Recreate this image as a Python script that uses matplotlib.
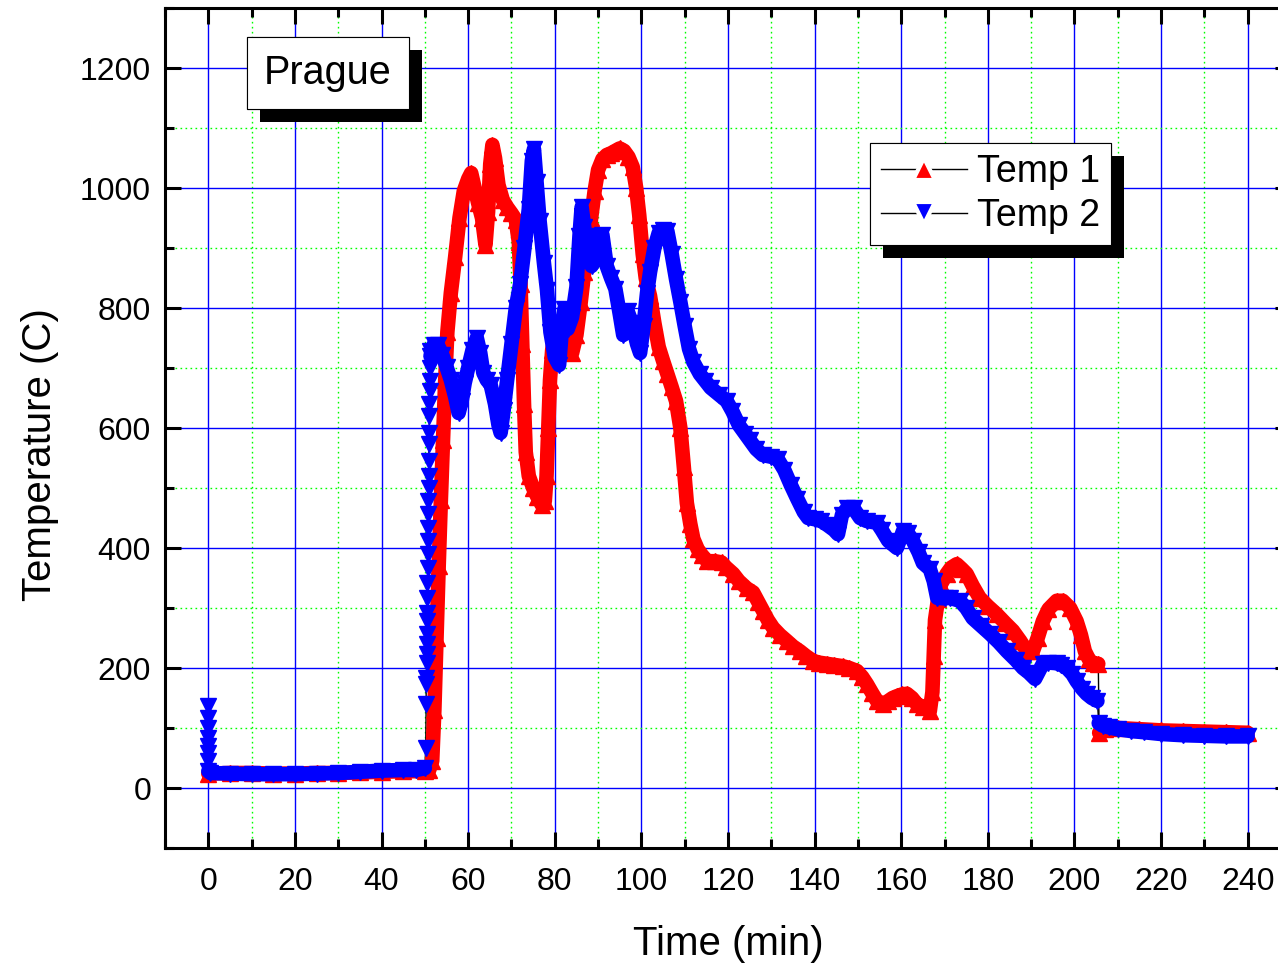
import numpy as np
import matplotlib
matplotlib.use("Agg")
import matplotlib.pyplot as plt
from matplotlib import patheffects
from matplotlib.lines import Line2D
from matplotlib.patches import Rectangle
from matplotlib.ticker import MultipleLocator

plt.rcParams['font.family'] = ['Liberation Sans', 'DejaVu Sans']

# Temp 1 readings (min, deg C) up to the drop at ~205 min
temp1_time = [0, 5, 10, 15, 20, 25, 30, 35, 40, 45, 50, 51, 51.7, 52.2, 52.7, 53.2, 53.7,
              54.2, 54.7, 55.2, 56, 57, 58, 59, 60, 60.7, 61.5, 62.3, 63.2, 64, 64.6, 65.1,
              65.6, 66.2, 67, 68, 69, 70, 71, 71.7, 72.1, 72.5, 72.9, 73.3, 74, 75, 76, 77,
              77.7, 78.1, 78.5, 78.9, 79.4, 80, 81, 82, 83, 84, 85, 86, 86.8, 87.6, 88.4,
              89.2, 90, 91, 92, 93, 94, 95, 96, 97, 98, 98.8, 99.5, 100.3, 101, 102, 103,
              104, 105, 106, 107, 108, 109, 109.8, 110.5, 111.3, 112, 113, 114, 115.2, 117,
              118.5, 119.5, 121.2, 122.5, 124.3, 125.8, 127, 128.1, 129.2, 130.4, 132,
              133.6, 135, 136.6, 138, 139.6, 141, 142.8, 144.5, 146.5, 148, 149.8, 151,
              152.1, 153.3, 154.4, 155.8, 157, 158, 159, 160.2, 161.3, 162.5, 163.6, 165,
              166.6, 167.2, 167.5, 167.8, 168.5, 169.2, 170.5, 171.5, 172.8, 174, 175.1,
              176.5, 178.1, 180, 182, 184, 185.8, 187.5, 189, 190.4, 191.5, 192.7, 194,
              195.9, 197.3, 199, 200.5, 201.5, 202.4, 203.3, 204.2, 205.5]
temp1_vals = [24, 25, 25, 24, 24, 25, 25, 26, 27, 28, 28, 30, 45, 130, 250, 370, 480,
              580, 680, 760, 825, 885, 950, 995, 1015, 1025, 1000, 975, 950, 905, 960, 1040,
              1072, 1050, 1005, 980, 968, 958, 947, 910, 840, 740, 640, 560, 520, 500, 485, 472,
              478, 520, 600, 680, 730, 755, 772, 762, 738, 725, 755, 810, 860, 900, 950,
              995, 1030, 1048, 1055, 1058, 1062, 1066, 1062, 1052, 1035, 1000, 955, 890, 850, 820, 775,
              735, 712, 690, 668, 645, 600, 535, 475, 440, 415, 398, 388, 378, 378,
              376, 368, 357, 345, 333, 326, 310, 295, 280, 267, 255,
              245, 236, 228, 220, 212, 209, 207, 205, 203, 200, 195, 185,
              173, 158, 145, 140, 145, 150, 153, 156, 157, 150, 140, 135,
              128, 160, 220, 280, 315, 340, 357, 367, 373, 365, 357,
              337, 317, 303, 290, 275, 262, 245, 228, 228, 250, 278, 298,
              312, 312, 300, 278, 255, 228, 215, 208, 207]
# Temp 1 after the drop
temp1_tail_time = [205.7, 207, 210, 215, 220, 225, 230, 235, 240]
temp1_tail_vals = [92, 98, 100, 98, 96, 95, 94, 93, 92]

# Temp 2 first readings at t = 0
temp2_start_time = [0, 0, 0, 0, 0, 0, 0]
temp2_start_vals = [137, 117, 100, 83, 70, 58, 45]
# Temp 2 before ignition
temp2_flat_time = [0, 0.5, 5, 10, 15, 20, 25, 30, 35, 40, 45, 48, 50]
temp2_flat_vals = [28, 25, 24, 23, 23, 23, 24, 25, 27, 29, 30, 30, 33]
# Temp 2 fast rise around 50 min
temp2_rise_time = [50.2, 50.3, 50.3, 50.35, 50.4, 50.4, 50.45, 50.5, 50.5, 50.55, 50.6,
                   50.6, 50.65, 50.7, 50.7, 50.75, 50.8, 50.8, 50.85, 50.9, 50.9, 50.95,
                   51.0, 51.0, 51.05, 51.1, 51.1, 51.15, 51.2]
temp2_rise_vals = [67, 140, 173, 183, 208, 223, 240, 257, 278, 292, 317,
                   342, 367, 390, 412, 433, 457, 478, 500, 520, 545, 573,
                   592, 620, 640, 662, 678, 700, 728]
# Temp 2 fire phase up to the drop at ~205 min
temp2_time = [51.3, 52, 53, 54, 55, 56, 57, 57.8, 58.5, 59.2, 60, 61, 62, 62.8, 63.5, 64.3,
              65.2, 66.2, 67, 67.5, 68.2, 69, 70, 71, 72, 73, 74, 74.7, 75.2, 75.8, 76.5,
              77.5, 78.2, 79, 80, 81, 81.6, 82.2, 83, 84, 85, 85.7, 86.2, 86.8, 87.5, 88.5,
              89.3, 90, 91, 92, 93, 94, 95, 95.8, 96.8, 97.8, 99, 99.7, 100.5, 101.3, 102,
              103, 104, 105, 106, 107, 108, 109, 110, 111, 112, 113.5, 114.8, 116, 118,
              119.7, 121, 122.5, 124, 125, 126.5, 128, 130, 131.5, 133, 134.5, 136, 137.5,
              138.5, 140, 141.5, 143, 144.5, 145.4, 146.3, 147.5, 149, 150.5, 152, 154.4,
              155.5, 157, 159, 160.4, 161.5, 162.7, 164, 165, 166.6, 167.5, 168.3, 170,
              171.2, 173.5, 175, 176.5, 178.5, 180.5, 182.5, 184.4, 186.5, 188.1, 189.5,
              190.9, 192.7, 194, 195.9, 197, 198.2, 199.5, 200.5, 201.8, 202.8, 204, 205.3]
temp2_vals = [720, 738, 738, 722, 702, 680, 652, 625, 645, 675, 700, 730, 750, 725, 692, 680,
              672, 640, 605, 592, 630, 680, 740, 800, 840, 900, 965, 1045, 1065, 1010, 945,
              875, 830, 760, 718, 705, 760, 798, 765, 785, 835, 920, 968, 935, 890, 870,
              880, 920, 922, 870, 850, 832, 790, 755, 795, 775, 740, 725, 770, 825, 860,
              900, 925, 930, 928, 890, 848, 810, 770, 732, 710, 690, 678, 667, 655,
              645, 628, 605, 590, 580, 565, 555, 552, 548, 530, 505, 482, 460,
              450, 448, 445, 438, 430, 423, 455, 466, 466, 450, 445, 442,
              430, 412, 400, 428, 425, 412, 393, 375, 365, 345, 317, 316,
              317, 312, 300, 283, 270, 257, 243, 228, 213, 200, 192,
              182, 207, 209, 208, 205, 200, 190, 178, 165, 157, 150, 145]
# Temp 2 after the drop
temp2_tail_time = [205.6, 206.5, 208, 210, 213, 216, 220, 225, 230, 235, 240]
temp2_tail_vals = [108, 104, 101, 98, 95, 93, 90, 88, 87, 86, 86]

x_ticks = list(range(0, 241, 20))
y_ticks = list(range(0, 1201, 200))


def plot_series(ax, pieces, color, marker):
    # pieces: (time, values, draw_band) in time order
    t = np.concatenate([np.asarray(p[0], float) for p in pieces])
    v = np.concatenate([np.asarray(p[1], float) for p in pieces])
    ax.plot(t, v, color='black', lw=1.0, zorder=2)
    for pt, pv, band in pieces:
        if band:
            ax.plot(pt, pv, color=color, lw=10.5, solid_capstyle='round',
                    solid_joinstyle='round', zorder=3)
    ax.plot(t, v, ls='none', marker=marker, ms=12, mfc=color, mec=color, zorder=3)


fig = plt.figure(figsize=(12.78, 9.63), dpi=100)
ax = fig.add_axes([165 / 1278, 1 - 848 / 963, 1126 / 1278, 840 / 963])

plot_series(ax, [(temp1_time, temp1_vals, True),
                 (temp1_tail_time, temp1_tail_vals, True)], 'red', '^')
plot_series(ax, [(temp2_start_time, temp2_start_vals, False),
                 (temp2_flat_time, temp2_flat_vals, True),
                 (temp2_rise_time, temp2_rise_vals, False),
                 (temp2_time, temp2_vals, True),
                 (temp2_tail_time, temp2_tail_vals, True)], 'blue', 'v')

ax.set_xlim(-10, 250)
ax.set_ylim(-100, 1300)
ax.set_xticks(x_ticks)
ax.set_yticks(y_ticks)
ax.xaxis.set_minor_locator(MultipleLocator(10))
ax.yaxis.set_minor_locator(MultipleLocator(100))

ax.set_axisbelow(True)
ax.grid(which='major', color='#0000ff', lw=1.0, ls='-')
ax.grid(which='minor', color='#00ff00', lw=1.0, ls=(0, (1.2, 2.4)))

for s in ax.spines.values():
    s.set_linewidth(2.2)
ax.tick_params(which='both', direction='in', top=True, right=True, width=2.2,
               labelsize=23)
ax.tick_params(axis='x', pad=14)
ax.tick_params(axis='y', pad=10)
ax.tick_params(which='major', length=11.5)
ax.tick_params(which='minor', length=6.5)

ax.set_xlabel('Time (min)', fontsize=29, labelpad=20)
ax.set_ylabel('Temperature (C)', fontsize=29)
ax.yaxis.set_label_coords(-0.094, 0.468)

shadow = [patheffects.withSimplePatchShadow(offset=(9.4, -9.4), shadow_rgbFace='black',
                                            alpha=1.0),
          patheffects.Normal()]

# site name box
box = Rectangle((0.0724, 0.8798), 0.1439, 0.0857, transform=ax.transAxes,
                facecolor='white', edgecolor='black', lw=0.8, zorder=6)
box.set_path_effects(shadow)
ax.add_patch(box)
ax.text(0.1443, 0.9226, 'Prague', transform=ax.transAxes, fontsize=28.5,
        ha='center', va='center', zorder=7)

handles = [Line2D([], [], color='black', lw=1.0, marker='^', ms=16, mfc='red',
                  mec='white', mew=3),
           Line2D([], [], color='black', lw=1.0, marker='v', ms=16, mfc='blue',
                  mec='white', mew=3)]
leg = ax.legend(handles, ['Temp 1', 'Temp 2'], loc='upper left',
                bbox_to_anchor=(0.626, 0.839), borderaxespad=0, fontsize=27,
                fancybox=False, framealpha=1, edgecolor='black', numpoints=1,
                handlelength=2.3, handletextpad=0.25, labelspacing=0.2,
                borderpad=0.3)
leg.get_frame().set_linewidth(0.8)
leg.get_frame().set_path_effects(shadow)
leg.set_zorder(8)

fig.savefig('out.png', dpi=100)
